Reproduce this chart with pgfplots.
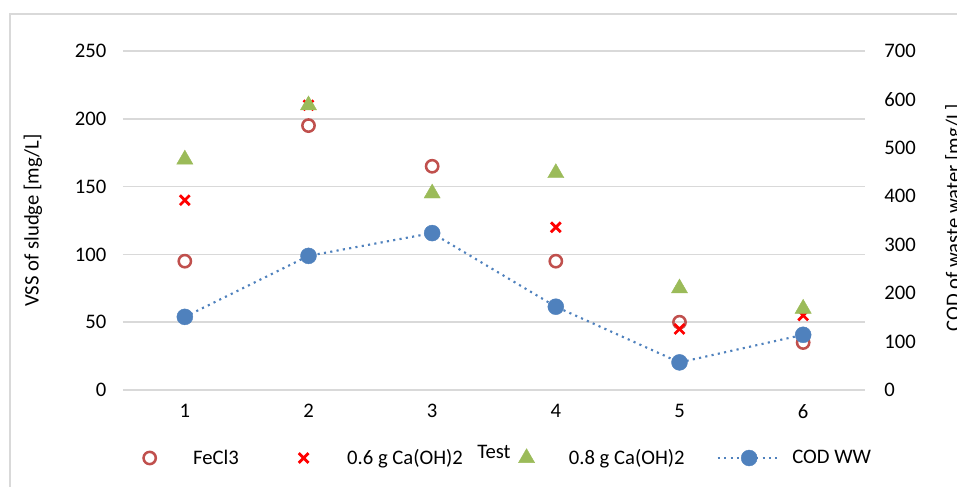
\documentclass[border=0pt]{standalone}
\usepackage{pgfplots}
\pgfplotsset{compat=1.18}
\usepackage{fontspec}
\setmainfont{Carlito}

\definecolor{gridgray}{HTML}{D9D9D9}
\definecolor{fecl}{HTML}{C0504D}
\definecolor{caa}{HTML}{FF0000}
\definecolor{cab}{HTML}{9BBB59}
\definecolor{codc}{HTML}{4F81BD}
\newcommand\chartfont{\fontsize{15.5}{18}\selectfont}

\pgfplotsset{
  wideleg/.style={legend image code/.code={%
      \path (0pt,0pt) (47.2pt,0pt);
      \draw[mark repeat=2,mark phase=2,##1]
        plot coordinates {(0pt,0pt)(23.6pt,0pt)(47.2pt,0pt)};}},
  chartbase/.style={
    at={(92.25pt,72pt)}, anchor=south west,
    scale only axis, width=556.5pt, height=254.25pt,
    xmin=0.5, xmax=6.5, clip=false,
    axis line style={draw=none},
    major tick length=0pt,
    /pgf/number format/assume math mode=true,
    tick label style={font=\chartfont},
  },
}

\begin{document}
\begin{tikzpicture}
% chart area frame
\draw[gridgray, line width=1pt] (7.5pt,-30pt) -- (7.5pt,354pt) -- (760pt,354pt);

% sludge VSS on the left axis
\begin{axis}[chartbase,
  ymin=0, ymax=250, ytick={0,50,...,250},
  xtick={1,...,6},
  ymajorgrids, grid style={gridgray, line width=1.3pt},
  yticklabel style={xshift=-9pt},
  xticklabel style={yshift=-7pt},
  xlabel={Test},
  every axis x label/.style={at={(axis description cs:0.5,0)}, anchor=center,
    yshift=-46.5pt, font=\chartfont},
  ylabel={VSS of sludge [mg/L]},
  every axis y label/.style={at={(axis description cs:0,0.5)}, xshift=-67.5pt,
    rotate=90, anchor=center, font=\chartfont},
]
\addplot[only marks, mark=o, mark size=4.6pt, fecl, line width=1.9pt]
  coordinates {(1,95) (2,195) (3,165) (4,95) (5,50) (6,35)};
\addplot[only marks, mark=x, mark size=5.2pt, caa, line width=2.1pt]
  coordinates {(1,140) (2,210) (4,120) (5,45) (6,55)};
\addplot[only marks, mark=triangle*, mark size=7pt, cab, line width=0.3pt]
  coordinates {(1,170) (2,210) (3,145) (4,160) (5,75) (6,60)};
\end{axis}

% waste water COD on the right axis
\begin{axis}[chartbase,
  ymin=0, ymax=700, ytick={0,100,...,700},
  axis x line=none, axis y line*=right,
  yticklabel style={xshift=11pt},
  ylabel={COD of waste water [mg/L]},
  every axis y label/.style={at={(axis description cs:1,0.5)}, xshift=67pt,
    yshift=2pt, rotate=90, anchor=center, font=\chartfont},
  legend columns=4,
  legend style={draw=none, fill=none, font=\chartfont,
    at={(axis description cs:0.5,0)}, anchor=center, yshift=-51pt,
    nodes={inner xsep=0pt, inner ysep=2pt},
    /tikz/every odd column/.append style={column sep=8pt},
    /tikz/every even column/.append style={column sep=24pt}},
]
\addlegendimage{only marks, mark=o, mark size=4.6pt, fecl, line width=1.9pt, wideleg}
\addlegendentry{FeCl3}
\addlegendimage{only marks, mark=x, mark size=5.2pt, caa, line width=2.1pt, wideleg}
\addlegendentry{0.6 g Ca(OH)2}
\addlegendimage{only marks, mark=triangle*, mark size=7pt, cab, line width=0.3pt, wideleg}
\addlegendentry{0.8 g Ca(OH)2}
\addplot[codc, line width=1.6pt, dash pattern=on 1.6pt off 3.2pt,
  mark=*, mark size=6pt, mark options={solid, line width=0.3pt}, wideleg]
  coordinates {(1,151) (2,277) (3,324) (4,172) (5,57) (6,114)};
\addlegendentry{COD WW}
\end{axis}

\pgfresetboundingbox
\useasboundingbox (0,0) rectangle (717.75pt,364.5pt);
\end{tikzpicture}
\end{document}
